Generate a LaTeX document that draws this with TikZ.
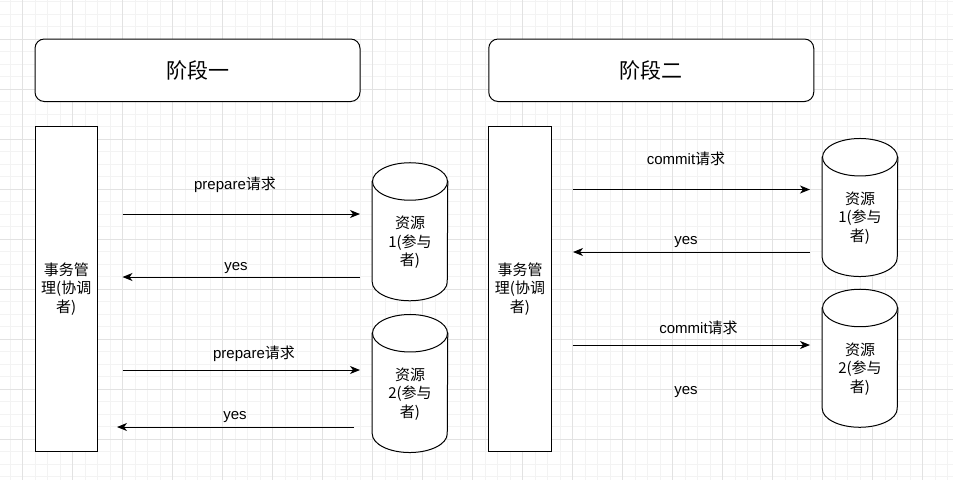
\documentclass[tikz,border=0pt]{standalone}
\usepackage{fontspec}
\setmainfont{Liberation Sans}
\newfontfamily\cjk{Noto Sans CJK SC}
\usetikzlibrary{arrows.meta}
\definecolor{gridminor}{RGB}{243,243,243}
\definecolor{gridmajor}{RGB}{226,226,226}

\begin{document}
\begin{tikzpicture}
[x=0.75pt,y=-0.75pt,
  gridMinor/.style={draw=gridminor,line width=0.75pt},
  gridMajor/.style={draw=gridmajor,line width=0.75pt},
  stageDecorate/.style={draw,fill=white,line width=0.75pt,rounded corners=7pt,
    minimum width=243.75pt,minimum height=46.875pt,font=\cjk\fontsize{15.75}{18}\selectfont},
  roleDecorate/.style={draw,fill=white,line width=0.75pt,minimum width=46.875pt,
    minimum height=243.75pt,align=center,font=\cjk\fontsize{11.25}{13.9}\selectfont},
  resDecorate/.style={minimum width=56.25pt,minimum height=103.125pt,inner sep=0pt},
  cylDecorate/.style={draw,fill=white,line width=0.75pt},
  textDecorate/.style={align=center,inner sep=0pt,font=\fontsize{11.25}{13.9}\selectfont},
  arrowDecorate/.style={-{Stealth[length=7.5pt,width=6pt,inset=2.2pt]},line width=0.75pt}]
\useasboundingbox (0,0) rectangle (953,480);
%% background grid
\foreach \x in {10,22.5,...,948}
  \draw[gridMinor] (\x,0) -- (\x,480);
\foreach \y in {1.5,14,...,478}
  \draw[gridMinor] (0,\y) -- (953,\y);
\foreach \x in {22.5,72.5,...,923}
  \draw[gridMajor] (\x,0) -- (\x,480);
\foreach \y in {39,89,...,440}
  \draw[gridMajor] (0,\y) -- (953,\y);
%% stages and coordinators
\foreach \nodename/\x/\txt in {stage1/197.5/阶段一, stage2/651.25/阶段二}
{
  \node (\nodename) at (\x,70.25) [stageDecorate] {\txt};
}
\foreach \nodename/\x in {tm1/66.25, tm2/520}
{
  \node (\nodename) at (\x,289) [roleDecorate] {事务管\\理(协调\\者)};
}
%% resources
\foreach \nodename/\x/\y/\idx in {
  res11/410/231.75/1, res12/410/383.5/2, res21/860/207.5/1, res22/860/358.25/2}
{
  \node (\nodename) at (\x,\y) [resDecorate] {};
  \draw[cylDecorate] ([yshift=-14.0625pt]\nodename.north west)
    -- ([yshift=14.0625pt]\nodename.south west)
    arc (180:360:28.125pt and 14.0625pt)
    -- ([yshift=-14.0625pt]\nodename.north east) -- cycle;
  \draw[cylDecorate] ([yshift=-14.0625pt]\nodename.north)
    ellipse [x radius=28.125pt, y radius=14.0625pt];
  \node (\nodename t) at ([yshift=-8pt]\nodename.center)
    [textDecorate,font=\cjk\fontsize{11.25}{13.9}\selectfont] {资源\\\idx(参与\\者)};
}
%% arrow ends
\foreach \name/\x/\y in {
  a1s/122.5/214, a1e/360/214, b1s/360/277, b1e/122.5/277,
  a2s/122.5/370, a2e/360/370, b2s/354/427, b2e/117/427,
  c1s/572.5/189.5, c1e/810/189.5, d1s/810/252, d1e/573/252,
  c2s/572.5/345, c2e/810/345}
{
  \coordinate (\name) at (\x,\y);
}
\path
\foreach \startnode/\endnode in {
  a1s/a1e, b1s/b1e, a2s/a2e, b2s/b2e, c1s/c1e, d1s/d1e, c2s/c2e}
{
  (\startnode) edge[arrowDecorate] (\endnode)
};
%% labels
\foreach \nodename/\x/\y/\txt in {
  l1/235/185/prepare{\cjk 请求}, l2/236/268/yes,
  l3/254/353.5/prepare{\cjk 请求}, l4/235/417/yes,
  l5/686/159/commit{\cjk 请求}, l6/686/242/yes,
  l7/698.5/328/commit{\cjk 请求}, l8/686/392/yes}
{
  \node (\nodename) at (\x,\y) [textDecorate] {\txt};
}
\end{tikzpicture}
\end{document}
